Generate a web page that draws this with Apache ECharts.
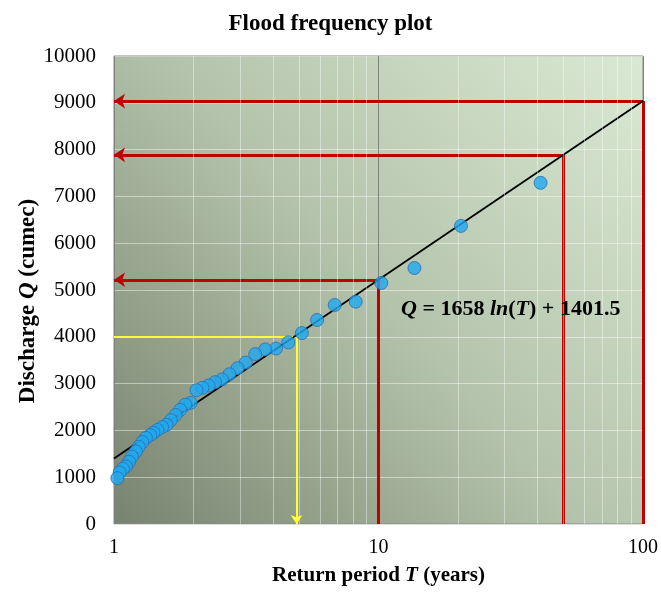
<!DOCTYPE html>
<html>
<head>
<meta charset="utf-8">
<script src="https://cdn.jsdelivr.net/npm/echarts@6/dist/echarts.min.js"></script>
<style>
  html, body { margin: 0; padding: 0; background: #fff; }
  #chart { width: 661px; height: 595px; }
</style>
</head>
<body>
<div id="chart"></div>
<script>
// observed floods: return period T (years) and discharge Q (cumec)
var returnPeriods = [41, 20.5, 13.67, 10.25, 8.2, 6.83, 5.86, 5.13, 4.56, 4.1,
  3.73, 3.42, 3.15, 2.93, 2.73, 2.56, 2.41, 2.28, 2.16, 2.05,
  1.95, 1.86, 1.78, 1.71, 1.64, 1.58, 1.52, 1.46, 1.41, 1.37,
  1.32, 1.28, 1.24, 1.21, 1.17, 1.14, 1.11, 1.08, 1.05, 1.03];
var discharges = [7290, 6370, 5470, 5150, 4750, 4680, 4360, 4080, 3880, 3750,
  3730, 3630, 3450, 3330, 3200, 3090, 3030, 2960, 2910, 2860,
  2590, 2550, 2440, 2330, 2220, 2120, 2070, 2010, 1950, 1900,
  1840, 1750, 1650, 1550, 1440, 1330, 1230, 1180, 1100, 980];

// fitted line Q = 1658 ln(T) + 1401.5
var trendT = [1, 100];
var trendQ = [1401.5, 9037];

var designT = [10, 50, 100];
var designQ = [5219, 7888, 9037];
var lookupT = 4.9;
var lookupQ = 4000;

var minorT = [2, 3, 4, 5, 6, 7, 8, 9, 20, 30, 40, 50, 60, 70, 80, 90];

var serif = '"Liberation Serif", "Times New Roman", serif';

var chart = echarts.init(document.getElementById('chart'));

// vertical part goes up from the T axis, the arrow part runs left to the Q axis
var redUp = designT.map(function (t, i) {
  return { coords: [[t, 0], [t, designQ[i]]] };
});
var redLeft = designT.map(function (t, i) {
  return { coords: [[t, designQ[i]], [1, designQ[i]]] };
});

function richName(size) {
  return {
    b: { fontFamily: serif, fontWeight: 'bold', fontSize: size, color: '#000' },
    bi: { fontFamily: serif, fontWeight: 'bold', fontStyle: 'italic', fontSize: size, color: '#000' }
  };
}

chart.setOption({
  animation: false,
  backgroundColor: '#ffffff',
  title: {
    text: 'Flood frequency plot',
    left: 'center',
    top: 8,
    textStyle: { fontFamily: serif, fontWeight: 'bold', fontSize: 23, color: '#000' }
  },
  grid: {
    left: 114,
    right: 18,
    top: 56,
    bottom: 71,
    show: true,
    borderColor: '#858a83',
    borderWidth: 1,
    backgroundColor: new echarts.graphic.LinearGradient(0, 1, 1, 0, [
      { offset: 0, color: '#78836f' },
      { offset: 0.5, color: '#b4c4ac' },
      { offset: 1, color: '#d9e9d3' }
    ])
  },
  xAxis: {
    type: 'log',
    logBase: 10,
    min: 1,
    max: 100,
    name: '{b|Return period }{bi|T}{b| (years)}',
    nameLocation: 'middle',
    nameGap: 41,
    nameMoveOverlap: false,
    nameTextStyle: { rich: richName(21) },
    axisLine: { show: false },
    axisTick: { show: false },
    axisLabel: { fontFamily: serif, fontSize: 20, color: '#000', margin: 14 },
    splitLine: { show: true, lineStyle: { color: '#7d827a', width: 1 } }
  },
  yAxis: {
    type: 'value',
    min: 0,
    max: 10000,
    interval: 1000,
    name: '{b|Discharge }{bi|Q}{b| (cumec)}',
    nameLocation: 'middle',
    nameRotate: 90,
    nameGap: 74,
    nameMoveOverlap: false,
    nameTextStyle: {
      padding: [0, 22, 0, 0],
      rich: richName(23)
    },
    axisLine: { show: false },
    axisTick: { show: false },
    axisLabel: {
      fontFamily: serif, fontSize: 21, color: '#000', margin: 18,
      formatter: function (v) { return String(v); }
    },
    splitLine: { show: true, lineStyle: { color: 'rgba(255,255,255,0.45)', width: 1 } }
  },
  graphic: [{
    type: 'text',
    left: 401,
    top: 298,
    z: 100,
    style: {
      text: '{i|Q}{n| = 1658 }{i|ln}{n|(}{i|T}{n|) + 1401.5}',
      rich: {
        n: { fontFamily: serif, fontWeight: 'bold', fontSize: 22, fill: '#000' },
        i: { fontFamily: serif, fontWeight: 'bold', fontStyle: 'italic', fontSize: 22, fill: '#000' }
      }
    }
  }],
  series: [
    {
      type: 'line',
      data: [],
      silent: true,
      z: 1,
      markLine: {
        silent: true,
        symbol: ['none', 'none'],
        label: { show: false },
        lineStyle: { type: 'solid', color: 'rgba(255,255,255,0.4)', width: 1 },
        data: minorT.map(function (t) { return { xAxis: t }; })
      }
    },
    {
      type: 'lines',
      coordinateSystem: 'cartesian2d',
      z: 3,
      symbol: ['none', 'none'],
      lineStyle: { color: '#c00000', width: 3, opacity: 1, curveness: 0 },
      data: redUp
    },
    {
      type: 'lines',
      coordinateSystem: 'cartesian2d',
      z: 3,
      symbol: ['none', 'arrow'],
      symbolSize: 11,
      lineStyle: { color: '#c00000', width: 3, opacity: 1, curveness: 0 },
      data: redLeft
    },
    {
      type: 'lines',
      coordinateSystem: 'cartesian2d',
      z: 3,
      symbol: ['none', 'none'],
      lineStyle: { color: '#ffff33', width: 2, opacity: 1, curveness: 0 },
      data: [{ coords: [[1, lookupQ], [lookupT, lookupQ]] }]
    },
    {
      type: 'lines',
      coordinateSystem: 'cartesian2d',
      z: 3,
      symbol: ['none', 'arrow'],
      symbolSize: 9,
      lineStyle: { color: '#ffff33', width: 2, opacity: 1, curveness: 0 },
      data: [{ coords: [[lookupT, lookupQ], [lookupT, 0]] }]
    },
    {
      type: 'line',
      z: 4,
      showSymbol: false,
      lineStyle: { color: '#000', width: 1.8 },
      data: trendT.map(function (t, i) { return [t, trendQ[i]]; })
    },
    {
      type: 'scatter',
      z: 5,
      symbolSize: 13,
      itemStyle: { color: '#1ea9ef', borderColor: '#2c6db5', borderWidth: 1 },
      data: returnPeriods.map(function (t, i) { return [t, discharges[i]]; })
    }
  ]
});
</script>
</body>
</html>
